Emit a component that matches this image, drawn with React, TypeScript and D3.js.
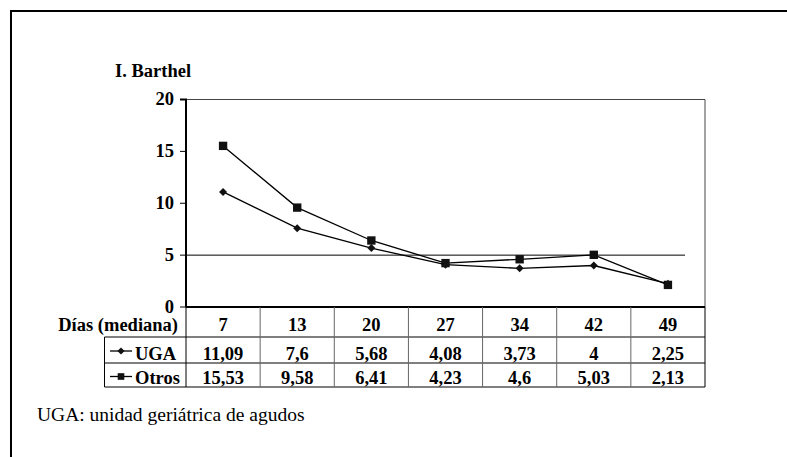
import React from 'react';
import * as d3 from 'd3';

const dias = ['7', '13', '20', '27', '34', '42', '49'];
const uga = [11.09, 7.6, 5.68, 4.08, 3.73, 4, 2.25];
const otros = [15.53, 9.58, 6.41, 4.23, 4.6, 5.03, 2.13];
const ugaLabels = ['11,09', '7,6', '5,68', '4,08', '3,73', '4', '2,25'];
const otrosLabels = ['15,53', '9,58', '6,41', '4,23', '4,6', '5,03', '2,13'];
const yTicks = [0, 5, 10, 15, 20];
const refValue = 5;

const width = 787, height = 457;
const left = 186, right = 705, top = 99.5, bottom = 307;
const serif = { fontFamily: "'Liberation Serif'" };
const bold = { fontFamily: "'Liberation Serif'", fontWeight: 'bold' as const, fontSize: 18.5 };

const x = d3.scaleBand().domain(dias).range([left, right]);
const y = d3.scaleLinear().domain([0, 20]).range([bottom, top]);
const cx = (d: string) => (x(d) as number) + x.bandwidth() / 2;
const line = d3.line<number>().x((_, i) => cx(dias[i])).y(d => y(d));
const square = (size: number) => d3.symbol().type(d3.symbolSquare).size(size)() as string;

const series = [
  { name: 'Otros', values: otros, labels: otrosLabels, size: 70, rot: 0, keySize: 44 },
  { name: 'UGA', values: uga, labels: ugaLabels, size: 32, rot: 45, keySize: 26 },
];
const rowLines = [337, 363, 387];
const rowText = { UGA: 359.5, Otros: 383.5 } as Record<string, number>;
const keyY = { UGA: 351, Otros: 376.5 } as Record<string, number>;
const tableLeft = 104.5;

export default function App() {
  return (
    <svg width={width} height={height}
      style={{ position: 'absolute', left: 0, top: 0, background: '#fff' }}>
      {/* outer frame, only top and left showing */}
      <path d={`M11,${height} L11,11 L${width},11`} fill="none" stroke="#000" strokeWidth={2} />

      <text x={115} y={77} style={bold}>I. Barthel</text>

      <path d={`M${left},${top} L${right},${top} L${right},${bottom}`} fill="none" stroke="#444" />

      {/* y axis */}
      <path d={`M${left - 6},${top}H${left}V${bottom}`} fill="none" stroke="#000" strokeWidth={2} />
      {yTicks.map(t => (
        <g key={t} transform={`translate(0,${y(t)})`}>
          <line x1={left - 6} x2={left} stroke="#000" />
          <text x={174} dy="0.3em" textAnchor="end" style={bold}>{t}</text>
        </g>
      ))}

      <line x1={left} x2={685} y1={y(refValue)} y2={y(refValue)} stroke="#000" />

      {series.map(s => (
        <g key={s.name}>
          <path d={line(s.values) as string} fill="none" stroke="#000" strokeWidth={1.3} />
          {s.values.map((v, i) => (
            <path key={i} d={square(s.size)} fill="#111"
              transform={`translate(${cx(dias[i])},${y(v)}) rotate(${s.rot})`} />
          ))}
        </g>
      ))}

      {/* data table */}
      <line x1={left} x2={right} y1={bottom} y2={bottom} stroke="#000" strokeWidth={2} />
      {rowLines.map(r => <line key={r} x1={tableLeft} x2={right} y1={r} y2={r} stroke="#000" />)}
      <line x1={tableLeft} x2={tableLeft} y1={rowLines[0]} y2={rowLines[2]} stroke="#000" />
      {dias.map(d => (
        <line key={d} x1={x(d)} x2={x(d)} y1={bottom} y2={rowLines[2]}
          stroke={x(d) === left ? '#000' : '#666'} />
      ))}
      <line x1={right} x2={right} y1={bottom} y2={rowLines[2]} stroke="#000" />

      <text x={178} y={331} textAnchor="end" style={bold}>Días (mediana)</text>
      {dias.map(d => <text key={d} x={cx(d)} y={331} textAnchor="middle" style={bold}>{d}</text>)}

      {series.map(s => {
        const ty = rowText[s.name];
        const ky = keyY[s.name];
        return (
          <g key={s.name}>
            <line x1={110} x2={132} y1={ky} y2={ky} stroke="#000" strokeWidth={1.3} />
            <path d={square(s.keySize)} fill="#111" transform={`translate(121,${ky}) rotate(${s.rot})`} />
            <text x={135} y={ty} style={bold}>{s.name}</text>
            {s.labels.map((l, i) => (
              <text key={i} x={cx(dias[i])} y={ty} textAnchor="middle" style={bold}>{l}</text>
            ))}
          </g>
        );
      })}

      <text x={37} y={420.5} style={{ ...serif, fontSize: 19.5 }}>UGA: unidad geriátrica de agudos</text>
    </svg>
  );
}
